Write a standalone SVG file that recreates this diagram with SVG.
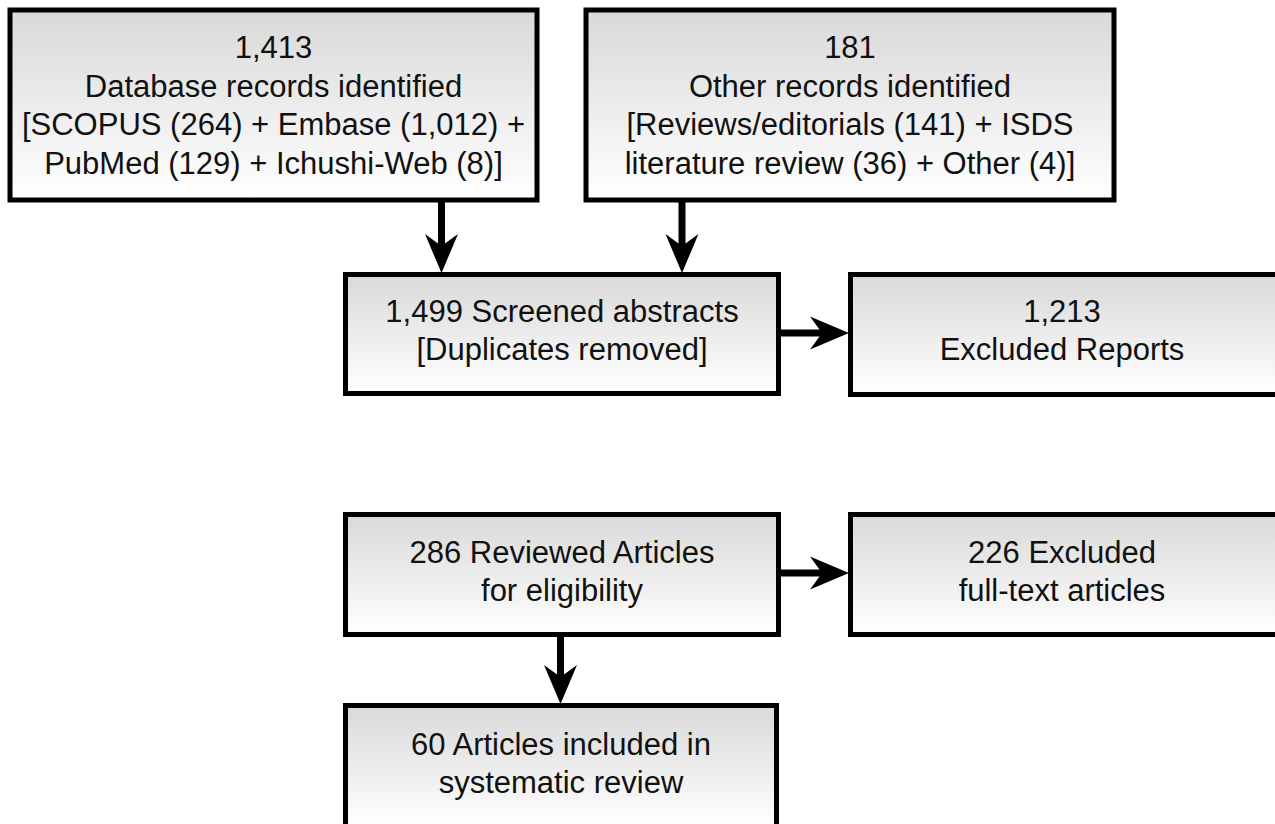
<svg xmlns="http://www.w3.org/2000/svg" width="1275" height="824" viewBox="0 0 1275 824">
  <defs>
    <linearGradient id="boxGrad" x1="0" y1="0" x2="0" y2="1">
      <stop offset="0" stop-color="#d9d9d9"/>
      <stop offset="1" stop-color="#ffffff"/>
    </linearGradient>
    <marker id="arrow" markerUnits="userSpaceOnUse" markerWidth="40" markerHeight="34" viewBox="0 0 40 34" refX="12" refY="17" orient="auto">
      <path d="M0,0.5 L39,17 L0,33.5 L12,17 Z" fill="#000"/>
    </marker>
  </defs>
  <style>
    .box { fill: url(#boxGrad); stroke: #000; stroke-width: 5; }
    .lbl { font-family: "Liberation Sans", Arial, sans-serif; font-size: 31px; fill: #111; text-anchor: middle; }
    .conn { stroke: #000; stroke-width: 7; fill: none; marker-end: url(#arrow); }
  </style>
  <rect width="1275" height="824" fill="#ffffff"/>

  <g id="connectors">
    <line class="conn" x1="441.5" y1="202" x2="441.5" y2="246"/>
    <line class="conn" x1="682" y1="202" x2="682" y2="246"/>
    <line class="conn" x1="779" y1="333" x2="822" y2="333"/>
    <line class="conn" x1="779" y1="573" x2="822" y2="573"/>
    <line class="conn" x1="560.5" y1="636" x2="560.5" y2="677"/>
  </g>

  <g id="node-database">
    <rect class="box" x="10" y="10" width="527" height="190"/>
    <text class="lbl" x="273.5" y="58">1,413</text>
    <text class="lbl" x="273.5" y="96.5">Database records identified</text>
    <text class="lbl" x="273.5" y="135">[SCOPUS (264) + Embase (1,012) +</text>
    <text class="lbl" x="273.5" y="173.5">PubMed (129) + Ichushi-Web (8)]</text>
  </g>

  <g id="node-other">
    <rect class="box" x="586" y="10" width="528" height="190"/>
    <text class="lbl" x="850" y="58">181</text>
    <text class="lbl" x="850" y="96.5">Other records identified</text>
    <text class="lbl" x="850" y="135">[Reviews/editorials (141) + ISDS</text>
    <text class="lbl" x="850" y="173.5">literature review (36) + Other (4)]</text>
  </g>

  <g id="node-screened">
    <rect class="box" x="345.5" y="274.5" width="433" height="119"/>
    <text class="lbl" x="562" y="322">1,499 Screened abstracts</text>
    <text class="lbl" x="562" y="360">[Duplicates removed]</text>
  </g>

  <g id="node-excluded-reports">
    <rect class="box" x="850.5" y="274.5" width="430" height="120"/>
    <text class="lbl" x="1062" y="322">1,213</text>
    <text class="lbl" x="1062" y="360">Excluded Reports</text>
  </g>

  <g id="node-reviewed">
    <rect class="box" x="345.5" y="514.5" width="433" height="120"/>
    <text class="lbl" x="562" y="563">286 Reviewed Articles</text>
    <text class="lbl" x="562" y="601">for eligibility</text>
  </g>

  <g id="node-excluded-fulltext">
    <rect class="box" x="850.5" y="514.5" width="430" height="120"/>
    <text class="lbl" x="1062" y="563">226 Excluded</text>
    <text class="lbl" x="1062" y="601">full-text articles</text>
  </g>

  <g id="node-included">
    <rect class="box" x="345.5" y="705.5" width="431" height="121"/>
    <text class="lbl" x="561" y="755">60 Articles included in</text>
    <text class="lbl" x="561" y="793">systematic review</text>
  </g>
</svg>
